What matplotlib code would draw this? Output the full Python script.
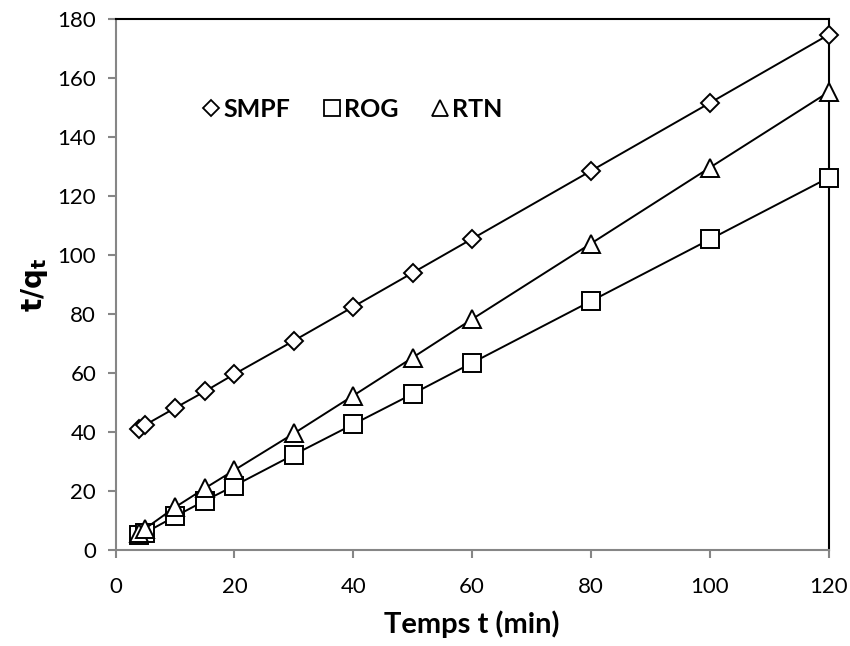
import numpy as np
import matplotlib.pyplot as plt
from matplotlib.lines import Line2D

# temps t (min)
t = [4, 5, 10, 15, 20, 30, 40, 50, 60, 80, 100, 120]

# t/qt for each sample
smpf = [41.1, 42.5, 48.2, 53.8, 59.7, 71.0, 82.5, 94.0, 105.5, 128.5, 151.5, 174.6]
rog = [5.3, 6.0, 11.5, 16.8, 21.9, 32.4, 42.7, 53.0, 63.5, 84.4, 105.3, 126.2]
rtn = [5.8, 7.4, 14.6, 21.0, 27.2, 39.6, 52.4, 65.3, 78.3, 103.9, 129.6, 155.2]

plt.rcParams['font.family'] = ['Lato', 'DejaVu Sans']

fig = plt.figure(figsize=(8.5, 6.46), dpi=100)
ax = fig.add_axes([0.136, 0.148, 0.839, 0.823])

mk = dict(color='black', lw=1.4, mfc='white', mec='black', mew=1.4, clip_on=False)
ax.plot(t, smpf, marker='D', ms=9, zorder=3, **mk)
ax.plot(t, rog, marker='s', ms=13, zorder=3, **mk)
ax.plot(t, rtn, marker='^', ms=13, zorder=3, **mk)

ax.set_xlim(0, 120)
ax.set_ylim(0, 180)
ax.set_xticks(np.arange(0, 121, 20))
ax.set_yticks(np.arange(0, 181, 20))

gray = '#868686'
for s in ['left', 'bottom']:
    ax.spines[s].set_color(gray)
    ax.spines[s].set_linewidth(1.5)
for s in ['top', 'right']:
    ax.spines[s].set_color('black')
    ax.spines[s].set_linewidth(1.5)
ax.tick_params(axis='both', direction='out', length=6, width=1.5, color=gray,
               labelsize=16)
ax.tick_params(axis='x', pad=13)
ax.tick_params(axis='y', pad=8)

ax.set_xlabel('Temps t (min)', fontsize=21, fontweight='bold', labelpad=10)
ax.set_ylabel(r'$\mathbf{t/q_t}$', fontsize=20, labelpad=5)

# legend: markers only, no lines
handles = [
    Line2D([], [], ls='none', marker='D', ms=8, mfc='white', mec='black', mew=1.3),
    Line2D([], [], ls='none', marker='s', ms=11, mfc='white', mec='black', mew=1.3),
    Line2D([], [], ls='none', marker='^', ms=12, mfc='white', mec='black', mew=1.3),
]
leg = ax.legend(handles, ['SMPF', 'ROG', 'RTN'], ncol=3, frameon=False,
                loc='center left', bbox_to_anchor=(0.09, 0.83),
                handlelength=0.7, handletextpad=0.15, columnspacing=1.3,
                prop={'weight': 'bold', 'size': 18})

fig.savefig('out.png', dpi=100)
